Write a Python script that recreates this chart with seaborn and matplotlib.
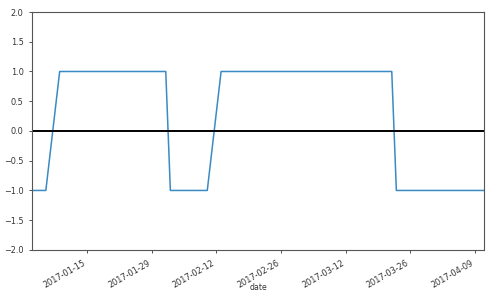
import matplotlib
matplotlib.use("Agg")
import matplotlib.pyplot as plt
import matplotlib.dates as mdates
import seaborn as sns
import pandas as pd

start_date = "2017-01-03"
end_date = "2017-04-11"
signal = [
    -1, -1, -1, -1,
    1, 1, 1, 1, 1,
    1, 1, 1, 1, 1,
    1, 1, 1, 1, 1,
    1, 1, 1,
    -1, -1,
    -1, -1, -1, -1, -1,
    1, 1, 1, 1, 1,
    1, 1, 1, 1, 1,
    1, 1, 1, 1, 1,
    1, 1, 1, 1, 1,
    1, 1, 1, 1, 1,
    1, 1, 1,
    -1, -1,
    -1, -1, -1, -1, -1,
    -1, -1, -1, -1, -1,
    -1, -1,
]
tick_dates = ["2017-01-15", "2017-01-29", "2017-02-12", "2017-02-26",
              "2017-03-12", "2017-03-26", "2017-04-09"]
yticks = [-2.0, -1.5, -1.0, -0.5, 0.0, 0.5, 1.0, 1.5, 2.0]

dates = pd.bdate_range(start_date, end_date)
df = pd.DataFrame({"date": dates, "signal": signal})

fig = plt.figure(figsize=(5, 2.93), dpi=100)
ax = fig.add_axes([0.064, 0.147, 0.904, 0.812])
sns.lineplot(data=df, x="date", y="signal", ax=ax, color="#3a8ac4", linewidth=1.1)
ax.axhline(0, color="black", linewidth=1.4)
ax.set_ylim(-2, 2)
ax.set_xlim(dates[0], dates[-1])
ax.set_yticks(yticks)
ax.set_xticks(pd.to_datetime(tick_dates))
ax.xaxis.set_major_formatter(mdates.DateFormatter("%Y-%m-%d"))
ax.tick_params(labelsize=5.9, length=2.5, width=0.6, colors="#333333")
for lbl in ax.get_xticklabels():
    lbl.set_rotation(30)
    lbl.set_ha("right")
ax.set_ylabel("")
ax.set_xlabel("date", fontsize=5.6, color="#333333")
ax.xaxis.label.set_va("bottom")
ax.xaxis.set_label_coords(0.5, -0.178)
for s in ax.spines.values():
    s.set_linewidth(0.8)
    s.set_color("#555555")
fig.savefig("out.png", dpi=100)
